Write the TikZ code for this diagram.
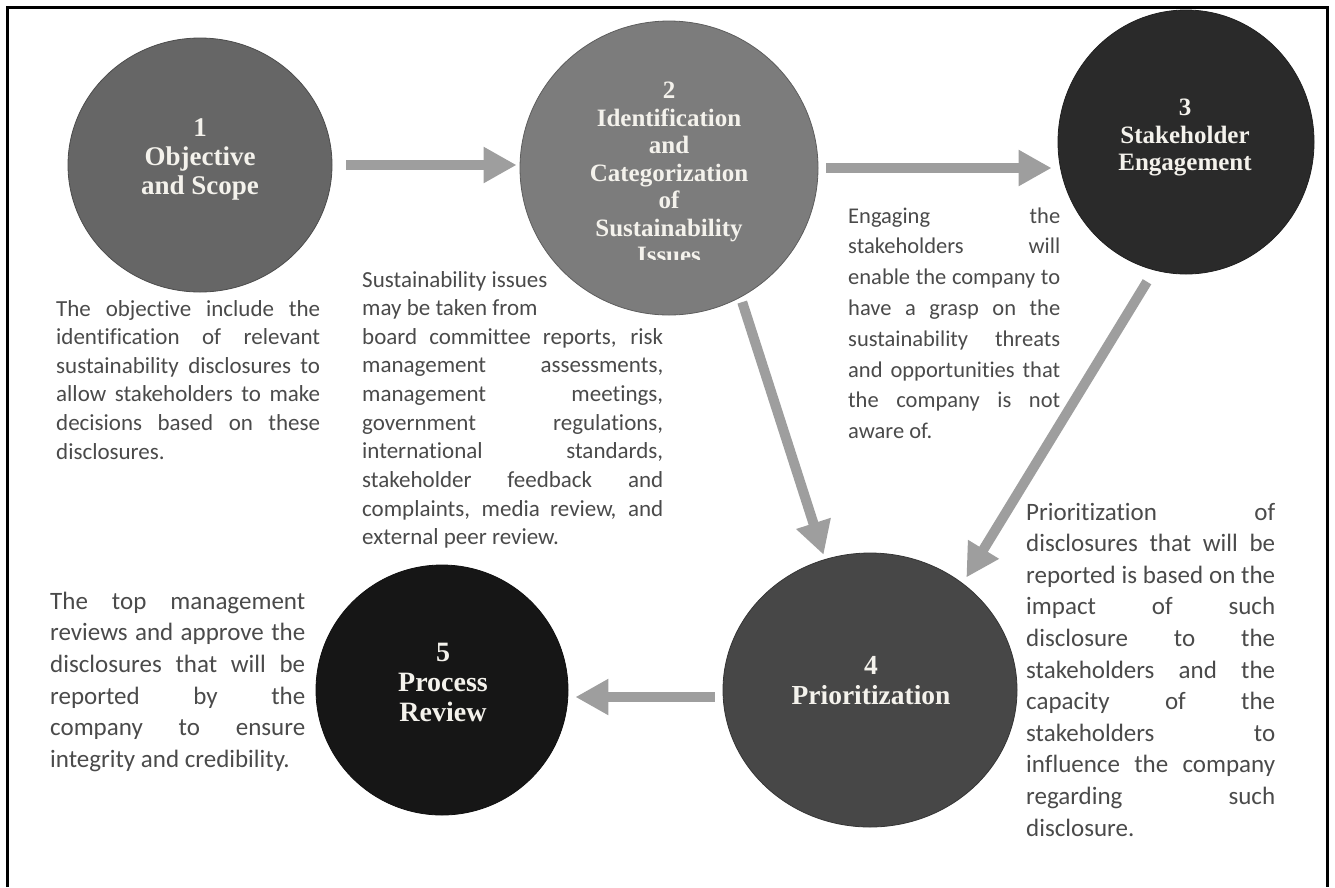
\documentclass[tikz,border=0pt]{standalone}
\usepackage{fontspec}
\setmainfont{Carlito}[Ligatures=NoCommon]
\newfontfamily\circlefont{Liberation Serif}
\usetikzlibrary{shapes.geometric,arrows.meta,calc}

\definecolor{arrowgray}{HTML}{9E9E9E}
\definecolor{bodygray}{HTML}{4A4A4A}
\definecolor{stepA}{HTML}{666666}
\definecolor{stepB}{HTML}{7C7C7C}
\definecolor{stepC}{HTML}{2A2A2A}
\definecolor{stepD}{HTML}{474747}
\definecolor{stepE}{HTML}{161616}
\definecolor{titlewhite}{HTML}{F4F2EC}

\hbadness=10000
\hfuzz=20pt

% one justified line: its inter-word spaces stretch to the full measure
\newcommand\jline[1]{\hbox to\hsize{#1}}
% closing line of a paragraph, set flush left
\newcommand\lastline[1]{\hbox to\hsize{#1\hfil}}
% one centred line of a step title
\newcommand\midline[1]{\hbox to\hsize{\hfil#1\hfil}}

\tikzset{
  stepdisc/.style={ellipse, inner sep=0pt, draw=#1!75!black, line width=0.8pt, fill=#1},
  steptitle/.style={anchor=base, inner sep=0pt, text=titlewhite},
  bodytext/.style={anchor=base west, inner sep=0pt, text=bodygray},
  blockarrow/.style={draw=arrowgray, line width=10pt,
    -{Triangle[length=33pt,width=34pt]}},
}

\begin{document}
\begin{tikzpicture}[x=1pt,y=-1pt]
\useasboundingbox (0,0) rectangle (1335,887);

% open frame (no bottom edge)
\draw[line width=3pt] (7.5,887) -- (7.5,7.5) -- (1327,7.5) -- (1327,887);

% the five steps
\node[stepdisc=stepA, minimum width=264pt, minimum height=254pt] (c1) at (200,165) {};
\node[stepdisc=stepB, minimum width=298pt, minimum height=294pt] (c2) at (669,168) {};
\node[stepdisc=stepC, minimum width=256pt, minimum height=264pt] (c3) at (1186,142) {};
\node[stepdisc=stepD, minimum width=294pt, minimum height=274pt] (c4) at (870,690) {};
\node[stepdisc=stepE, minimum width=252pt, minimum height=250pt] (c5) at (442,690) {};

% step titles
\node[steptitle] (t1) at (200,136) {\circlefont\bfseries\fontsize{27}{29}\selectfont
  \vtop{\hsize=230pt \midline{1}\midline{Objective}\midline{and Scope}}};
\begin{scope}
  % the title box of step 2 is too short, so its last line is cut off
  \clip (500,60) rectangle (840,259);
  \node[steptitle] (t2) at (669,98.5) {\circlefont\bfseries\fontsize{25}{27.5}\selectfont
    \vtop{\hsize=260pt \midline{2}\midline{Identification}\midline{and}%
      \midline{Categorization}\midline{of}\midline{Sustainability}\midline{Issues}}};
\end{scope}
\node[steptitle] (t3) at (1185,115.5) {\circlefont\bfseries\fontsize{25}{27.5}\selectfont
  \vtop{\hsize=220pt \midline{3}\midline{Stakeholder}\midline{Engagement}}};
\node[steptitle] (t4) at (871,674) {\circlefont\bfseries\fontsize{27.5}{30}\selectfont
  \vtop{\hsize=240pt \midline{4}\midline{Prioritization}}};
\node[steptitle] (t5) at (443,661) {\circlefont\bfseries\fontsize{28}{30}\selectfont
  \vtop{\hsize=220pt \midline{5}\midline{Process}\midline{Review}}};

% connectors
\draw[blockarrow, shorten <=14pt, shorten >=3pt] (c1.east) -- (c1.east -| c2.west);
\draw[blockarrow, shorten <=8pt, shorten >=6pt] (c2.east) -- (c2.east -| c3.west);
\draw[blockarrow, shorten <=5pt, shorten >=4.6pt] (c2.-61.3) -- (c4.109.2);
\draw[blockarrow, shorten <=13.5pt, shorten >=6.8pt] (c3.-104.9) -- (c4.49.5);
\draw[blockarrow, shorten <=8pt, shorten >=7pt] ($(c4.west)+(0,7)$) -- ($(c5.east)+(0,7)$);

% descriptions
\node[bodytext] (d1) at (56,316) {\fontsize{23}{28.6}\selectfont
  \vtop{\hsize=264pt
    \jline{The objective include the}
    \jline{identification of relevant}
    \jline{sustainability disclosures to}
    \jline{allow stakeholders to make}
    \jline{decisions based on these}
    \lastline{disclosures.}}};

\node[bodytext] (d2) at (362,287) {\fontsize{23}{28.65}\selectfont
  \vtop{\hsize=301pt
    \lastline{Sustainability issues}
    \lastline{may be taken from}
    \jline{board committee reports, risk}
    \jline{management assessments,}
    \jline{management meetings,}
    \jline{government regulations,}
    \jline{international standards,}
    \jline{stakeholder feedback and}
    \jline{complaints, media review, and}
    \lastline{external peer review.}}};

\node[bodytext] (d3) at (848,223) {\fontsize{22.5}{30.8}\selectfont
  \vtop{\hsize=212pt
    \jline{Engaging the}
    \jline{stakeholders will}
    \jline{enable the company to}
    \jline{have a grasp on the}
    \jline{sustainability threats}
    \jline{and opportunities that}
    \jline{the company is not}
    \lastline{aware of.}}};

\node[bodytext] (d4) at (1026,520) {\fontsize{25}{31.6}\selectfont
  \vtop{\hsize=249pt
    \jline{Prioritization of}
    \jline{disclosures that will be}
    \jline{reported is based on the}
    \jline{impact of such}
    \jline{disclosure to the}
    \jline{stakeholders and the}
    \jline{capacity of the}
    \jline{stakeholders to}
    \jline{influence the company}
    \jline{regarding such}
    \lastline{disclosure.}}};

\node[bodytext] (d5) at (50,609) {\fontsize{25}{31.7}\selectfont
  \vtop{\hsize=255pt
    \jline{The top management}
    \jline{reviews and approve the}
    \jline{disclosures that will be}
    \jline{reported by the}
    \jline{company to ensure}
    \lastline{integrity and credibility.}}};
\end{tikzpicture}
\end{document}
